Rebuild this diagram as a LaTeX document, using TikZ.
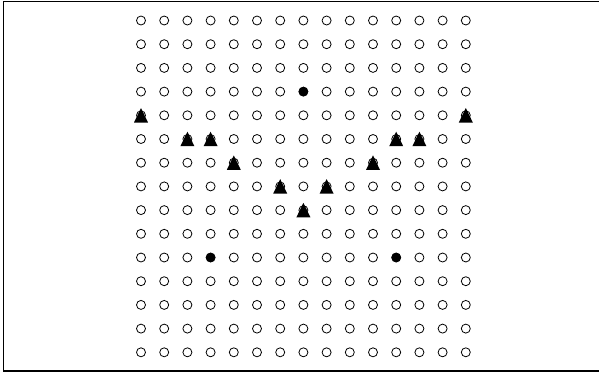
\documentclass[tikz,border=0pt]{standalone}
\begin{document}
\begin{tikzpicture}[x=1pt,y=-1pt,
  ring/.style={circle,draw,line width=0.8pt,minimum size=9pt,inner sep=0pt},
  dot/.style={circle,fill=black,minimum size=9.5pt,inner sep=0pt},
  tri/.style={fill=black}]
\useasboundingbox (0,0) rectangle (599,373);
\draw[line width=1.2pt] (601,1.5) -- (3.5,1.5) -- (3.5,371) -- (601,371);
\foreach \r in {1,...,15}
  \foreach \c in {1,...,15}
    {\node[ring] (n-\r-\c) at ({141+23.2*(\c-1)},{20.5+23.7*(\r-1)}) {};}
\node[dot] (d1) at (n-4-8) {};
\node[dot] (d2) at (n-11-4) {};
\node[dot] (d3) at (n-11-12) {};
\foreach \p in {5-1,5-15,6-3,6-4,6-12,6-13,7-5,7-11,8-7,8-9,9-8}
  {\fill[tri] (n-\p) ++(-7,7.2) -- ++(14,0) -- ++(-7,-14.5) -- cycle;}
\end{tikzpicture}
\end{document}
